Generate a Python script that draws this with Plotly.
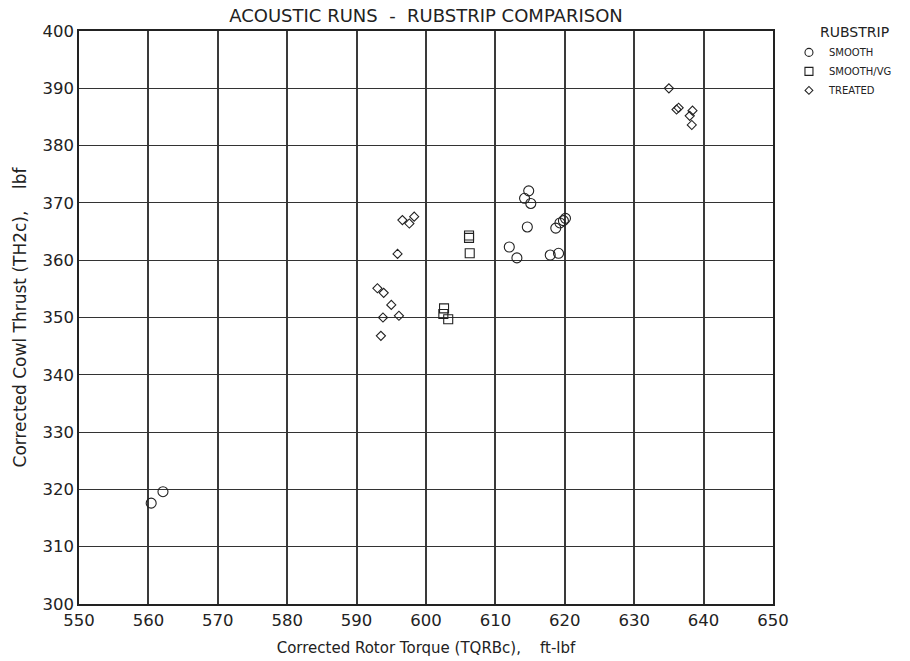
import plotly.graph_objects as go

smooth_x = [560.4, 562.1, 614.8, 614.2, 615.1, 614.6, 612.0, 613.1, 617.9, 619.1, 618.7, 619.3, 619.8, 620.1]
smooth_y = [317.6, 319.6, 372.1, 370.8, 369.9, 365.8, 362.3, 360.4, 360.9, 361.2, 365.6, 366.5, 366.9, 367.3]

vg_x = [606.2, 606.2, 606.3, 602.6, 602.5, 603.2]
vg_y = [364.3, 363.9, 361.2, 351.6, 350.6, 349.7]

treated_x = [596.6, 597.6, 598.3, 595.9, 593.0, 593.9, 595.0, 593.8, 596.1, 593.5,
             635.0, 636.1, 636.4, 638.4, 638.0, 638.3]
treated_y = [367.0, 366.4, 367.6, 361.1, 355.1, 354.3, 352.2, 350.0, 350.3, 346.8,
             390.0, 386.3, 386.6, 386.1, 385.2, 383.6]

series_names = ["SMOOTH", "SMOOTH/VG", "TREATED"]
x_ticks = list(range(550, 651, 10))
y_ticks = list(range(300, 401, 10))

FONT = "DejaVu Sans"
INK = "#222222"
NB = "\u00a0"

fig = go.Figure()
specs = [
    (smooth_x, smooth_y, "circle-open", 10, 8),
    (vg_x, vg_y, "square-open", 9, 8),
    (treated_x, treated_y, "diamond-open", 7, 6),
]
for name, (xs, ys, sym, size, lsize) in zip(series_names, specs):
    fig.add_trace(go.Scatter(x=xs, y=ys, mode="markers", name=name, showlegend=False,
                             marker=dict(symbol=sym, size=size, color=INK, line=dict(width=1.1))))
    fig.add_trace(go.Scatter(x=[None], y=[None], mode="markers", name=name, legendgroup=name,
                             marker=dict(symbol=sym, size=lsize, color=INK, line=dict(width=1.1))))

fig.update_layout(
    width=910, height=661,
    margin=dict(l=79, r=137, t=31, b=57),
    paper_bgcolor="white", plot_bgcolor="white",
    font=dict(family=FONT, color=INK),
    title=dict(text="ACOUSTIC RUNS" + NB * 2 + "-" + NB * 2 + "RUBSTRIP COMPARISON", x=(79 + 347) / 910,
               xanchor="center", y=1 - 16 / 661, yanchor="middle",
               font=dict(size=18, family=FONT, color=INK)),
    showlegend=True,
    legend=dict(x=1.023, xanchor="left", y=0.988, yanchor="top", bgcolor="rgba(0,0,0,0)",
                font=dict(size=10, family=FONT, color=INK), itemsizing="trace",
                tracegroupgap=0),
    annotations=[dict(text="RUBSTRIP", xref="paper", yref="paper", x=(818 - 79) / 694, xanchor="left",
                      y=1 - (32 - 31) / 573, yanchor="middle", showarrow=False,
                      font=dict(size=14, family=FONT, color=INK))],
)
fig.update_xaxes(range=[550, 650], tickvals=x_ticks, ticktext=[str(v) for v in x_ticks],
                 showgrid=True, gridcolor="#3a3a3a", gridwidth=2, automargin=False,
                 showline=True, linecolor="#222", linewidth=1.5, mirror=True,
                 ticks="", zeroline=False, tickfont=dict(size=16.5, family=FONT, color=INK),
                 title=dict(text="Corrected Rotor Torque (TQRBc)," + NB * 4 + "ft-lbf", standoff=14,
                            font=dict(size=15, family=FONT, color=INK)))
fig.update_yaxes(range=[300, 400], tickvals=y_ticks, ticktext=[str(v) for v in y_ticks],
                 showgrid=True, gridcolor="#333", gridwidth=1.2, automargin=False,
                 showline=True, linecolor="#222", linewidth=1.5, mirror=True,
                 ticks="", zeroline=False, tickfont=dict(size=16.5, family=FONT, color=INK),
                 title=dict(text="Corrected Cowl Thrust (TH2c)," + NB * 4 + "lbf", standoff=12,
                            font=dict(size=17, family=FONT, color=INK)))

fig.write_html("out.html")
